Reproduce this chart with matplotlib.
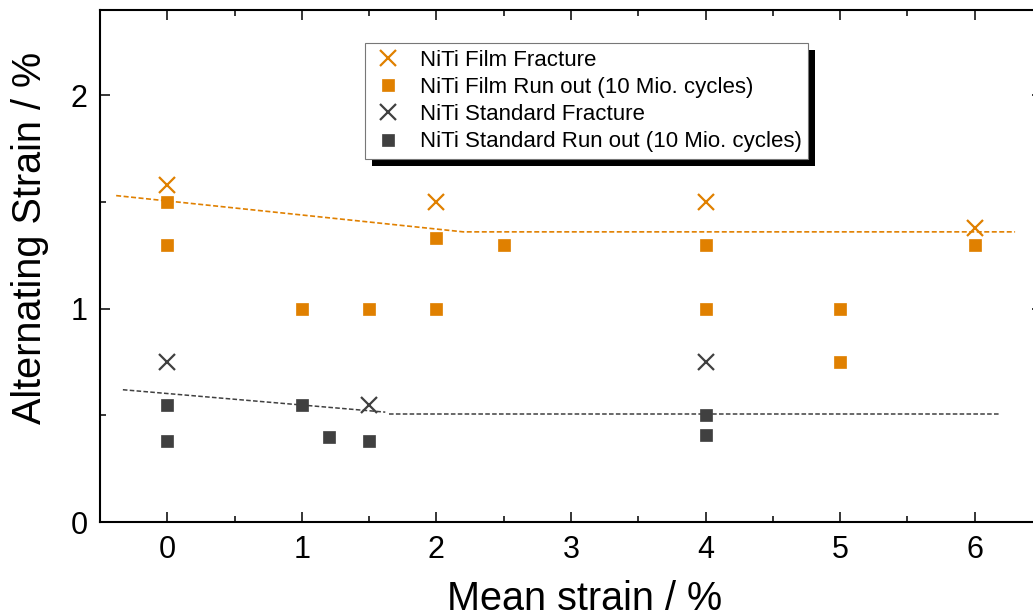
"""
Alternating strain vs. mean strain (NiTi film / standard)
"""
import matplotlib
matplotlib.use('Agg')
import matplotlib.pyplot as plt
from matplotlib.patches import Rectangle
from matplotlib.transforms import IdentityTransform
from matplotlib.ticker import MultipleLocator

plt.rcParams['font.family'] = ['Liberation Sans', 'DejaVu Sans']

ORANGE = '#e08000'
DARK = '#404040'

# data
film_frac_x = [0, 2, 4, 6]
film_frac_y = [1.58, 1.50, 1.50, 1.38]
film_run_x = [0, 0, 1, 1.5, 2, 2, 2.5, 4, 4, 5, 5, 6]
film_run_y = [1.50, 1.30, 1.00, 1.00, 1.33, 1.00, 1.30, 1.30, 1.00, 1.00, 0.75, 1.30]
std_frac_x = [0, 1.5, 4]
std_frac_y = [0.75, 0.55, 0.75]
std_run_x = [0, 0, 1, 1.2, 1.5, 4, 4]
std_run_y = [0.55, 0.38, 0.55, 0.40, 0.38, 0.50, 0.41]

# trend lines
film_trend_x = [-0.38, 2.20, 6.30]
film_trend_y = [1.53, 1.36, 1.36]
std_slope_x = [-0.33, 1.62]
std_slope_y = [0.62, 0.515]
std_flat_x = [1.65, 6.19]
std_flat_y = [0.505, 0.505]

fig = plt.figure(figsize=(10.33, 6.16), dpi=100)
ax = fig.add_axes([100 / 1033, 1 - 522 / 616, 942 / 1033, 512 / 616])

# trend lines
ax.plot(film_trend_x, film_trend_y, color=ORANGE, lw=1.2, ls=(0, (3, 1.5)), zorder=2)
ax.plot(std_slope_x, std_slope_y, color=DARK, lw=1.1, ls=(0, (3, 1.5)), zorder=2)
ax.plot(std_flat_x, std_flat_y, color=DARK, lw=1.1, ls=(0, (3, 1.5)), zorder=2)

ax.plot(film_frac_x, film_frac_y, ls='none', marker='x', ms=11, mew=1.6,
        color=ORANGE, label='NiTi Film Fracture', zorder=3)
ax.plot(film_run_x, film_run_y, ls='none', marker='s', ms=8.5, mew=0.5,
        color=ORANGE, label='NiTi Film Run out (10 Mio. cycles)', zorder=3)
ax.plot(std_frac_x, std_frac_y, ls='none', marker='x', ms=11, mew=1.6,
        color=DARK, label='NiTi Standard Fracture', zorder=3)
ax.plot(std_run_x, std_run_y, ls='none', marker='s', ms=8.5, mew=0.5,
        color=DARK, label='NiTi Standard Run out (10 Mio. cycles)', zorder=3)

ax.set_xlim(-0.5, 6.5)
ax.set_ylim(0, 2.4)
ax.xaxis.set_major_locator(MultipleLocator(1))
ax.xaxis.set_minor_locator(MultipleLocator(0.5))
ax.yaxis.set_major_locator(MultipleLocator(1))
ax.yaxis.set_minor_locator(MultipleLocator(0.5))
ax.tick_params(which='both', direction='in', top=True, right=True, width=1.1)
ax.tick_params(which='major', length=7.2, labelsize=22, pad=9)
ax.tick_params(which='minor', length=4.2)
for s in ax.spines.values():
    s.set_linewidth(1.5)

ax.set_xlabel('Mean strain / %', fontsize=28.5)
ax.set_ylabel('Alternating Strain / %', fontsize=28.5)
ax.xaxis.set_label_coords(0.514, -0.114)
ax.yaxis.set_label_coords(-0.054, 0.554)

leg = ax.legend(loc='upper left', bbox_to_anchor=(365 / 1033, 1 - 43 / 616),
                bbox_transform=fig.transFigure, borderaxespad=0, fontsize=16,
                frameon=True, fancybox=False, framealpha=1, edgecolor='#777777',
                handlelength=1.45, handletextpad=0.72, labelspacing=0.28,
                borderpad=0.3, numpoints=1)
leg.get_frame().set_linewidth(0.8)
leg.set_zorder(6)

# black drop shadow behind the legend
fig.canvas.draw()
bb = leg.get_window_extent()
ax.add_patch(Rectangle((bb.x0 + 7, bb.y0 - 7), bb.width, bb.height,
                       transform=IdentityTransform(), facecolor='black',
                       edgecolor='none', zorder=5.5, clip_on=False))

fig.savefig('out.png', dpi=100)
plt.close(fig)
